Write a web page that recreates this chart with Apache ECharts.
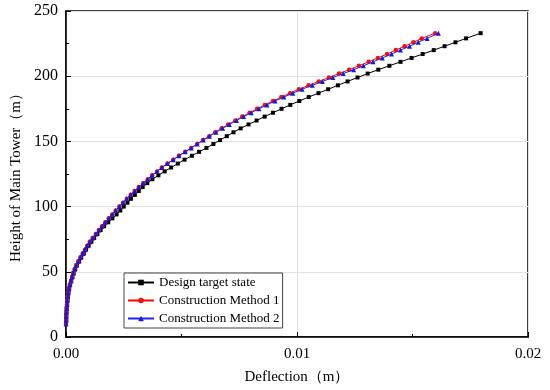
<!DOCTYPE html>
<html>
<head>
<meta charset="utf-8">
<script src="https://cdn.jsdelivr.net/npm/echarts@6/dist/echarts.min.js"></script>
<style>html,body{margin:0;padding:0;background:#fff}#c{width:550px;height:390px}</style>
</head>
<body>
<div id="c"></div>
<script>
// Heights of the main tower (m)
var heights = [10,13,16,19,22,25,28,31,34,37,40,43,46,49,52,55,58,61,64,67,70,73,76,79,82,85,88,91,94,97,100,103,106,109,112,115,118,121,124,127,130,133,136,139,142,145,148,151,154,157,160,163,166,169,172,175,178,181,184,187,190,193,196,199,202,205,208,211,214,217,220,223,226,229,233];
// Deflection (m) per series
var designDefl = [0,0.00001,0.00001,0.00002,0.00003,0.00005,0.00007,0.00009,0.00011,0.00014,
  0.00018,0.00023,0.00028,0.00033,0.00040,0.00047,0.00057,0.00066,0.00077,0.00087,
  0.00098,0.00110,0.00122,0.00136,0.00150,0.00165,0.00183,0.00201,0.00219,0.00235,
  0.00250,0.00266,0.00281,0.00298,0.00315,0.00332,0.00352,0.00374,0.00400,0.00427,
  0.00455,0.00484,0.00513,0.00545,0.00576,0.00608,0.00638,0.00667,0.00696,0.00725,
  0.00756,0.00790,0.00825,0.00860,0.00896,0.00933,0.00971,0.01010,0.01051,0.01093,
  0.01135,0.01177,0.01219,0.01262,0.01306,0.01352,0.01400,0.01448,0.01496,0.01544,
  0.01592,0.01639,0.01686,0.01732,0.01795];
var method1Defl = [0,0.00001,0.00001,0.00002,0.00003,0.00004,0.00005,0.00007,0.00009,0.00012,
  0.00016,0.00021,0.00026,0.00031,0.00037,0.00044,0.00053,0.00062,0.00072,0.00082,
  0.00092,0.00103,0.00115,0.00129,0.00142,0.00156,0.00170,0.00185,0.00200,0.00215,
  0.00231,0.00247,0.00263,0.00280,0.00297,0.00315,0.00334,0.00354,0.00373,0.00394,
  0.00415,0.00439,0.00464,0.00489,0.00516,0.00542,0.00568,0.00593,0.00620,0.00646,
  0.00674,0.00702,0.00733,0.00763,0.00795,0.00827,0.00861,0.00896,0.00932,0.00970,
  0.01008,0.01050,0.01094,0.01138,0.01182,0.01226,0.01268,0.01310,0.01350,0.01390,
  0.01428,0.01466,0.01504,0.01540,0.01598];
var method2Defl = [0,0.00001,0.00001,0.00002,0.00003,0.00004,0.00005,0.00007,0.00009,0.00012,
  0.00016,0.00021,0.00026,0.00031,0.00037,0.00044,0.00053,0.00062,0.00072,0.00082,
  0.00092,0.00103,0.00115,0.00129,0.00142,0.00156,0.00170,0.00185,0.00200,0.00215,
  0.00231,0.00247,0.00263,0.00280,0.00297,0.00315,0.00334,0.00354,0.00373,0.00394,
  0.00415,0.00439,0.00464,0.00489,0.00516,0.00542,0.00568,0.00594,0.00621,0.00649,
  0.00678,0.00707,0.00738,0.00769,0.00802,0.00835,0.00870,0.00905,0.00943,0.00982,
  0.01022,0.01066,0.01110,0.01155,0.01200,0.01245,0.01287,0.01329,0.01369,0.01409,
  0.01448,0.01487,0.01525,0.01563,0.01612];
var seriesNames = ['Design target state','Construction Method 1','Construction Method 2'];
var xTickLabels = {0:'0.00', 0.01:'0.01', 0.02:'0.02'};

function pairs(xs){ return xs.map(function(v,i){ return [v, heights[i]]; }); }

var chart = echarts.init(document.getElementById('c'), null, {renderer:'canvas'});
var font = 'Liberation Serif, Times New Roman, serif';
chart.setOption({
  animation:false,
  backgroundColor:'#fff',
  grid:{left:66,right:22,top:11,bottom:53,show:true,borderColor:'#000',borderWidth:1.5,backgroundColor:'transparent'},
  legend:{
    orient:'vertical', left:124, top:273,
    backgroundColor:'#fff', borderColor:'#444', borderWidth:1,
    padding:[3,3,3,3], itemGap:5, itemWidth:26, itemHeight:7,
    textStyle:{fontFamily:font,fontSize:13,color:'#000'},
    data:seriesNames
  },
  xAxis:{
    type:'value', min:0, max:0.02, interval:0.01,
    name:'Deflection\uff08m\uff09', nameLocation:'middle', nameGap:33,
    nameTextStyle:{fontFamily:font,fontSize:15,color:'#000'},
    axisLine:{lineStyle:{color:'#000',width:1.5}},
    axisTick:{inside:true,length:5,lineStyle:{color:'#000'}},
    minorTick:{show:true,splitNumber:2,length:3,lineStyle:{color:'#000'}},
    axisLabel:{fontFamily:font,fontSize:15,color:'#000',margin:10,formatter:function(v){return xTickLabels[v]!==undefined?xTickLabels[v]:v.toFixed(2);}},
    splitLine:{show:true,lineStyle:{color:'#e2e2e2',width:1}}
  },
  yAxis:{
    type:'value', min:0, max:250, interval:50,
    name:'Height of Main Tower\uff08m\uff09', nameLocation:'middle', nameGap:37,
    nameTextStyle:{fontFamily:font,fontSize:15,color:'#000'},
    axisLine:{show:true,lineStyle:{color:'#000',width:1.5}},
    axisTick:{show:true,inside:true,length:5,lineStyle:{color:'#000'}},
    minorTick:{show:true,splitNumber:2,length:3,lineStyle:{color:'#000'}},
    axisLabel:{fontFamily:font,fontSize:16,color:'#000',margin:8},
    splitLine:{show:true,lineStyle:{color:'#e2e2e2',width:1}}
  },
  series:[
    {name:seriesNames[0],type:'line',data:pairs(designDefl),symbol:'rect',symbolSize:4,
     lineStyle:{color:'#000',width:1},itemStyle:{color:'#000'},z:2},
    {name:seriesNames[1],type:'line',data:pairs(method1Defl),symbol:'circle',symbolSize:4.5,
     lineStyle:{color:'#ff0000',width:1},itemStyle:{color:'#ee1111'},z:3},
    {name:seriesNames[2],type:'line',data:pairs(method2Defl),symbol:'triangle',symbolSize:5,
     lineStyle:{color:'#2222ee',width:1},itemStyle:{color:'#1a1acc'},z:4}
  ]
});
</script>
</body>
</html>
